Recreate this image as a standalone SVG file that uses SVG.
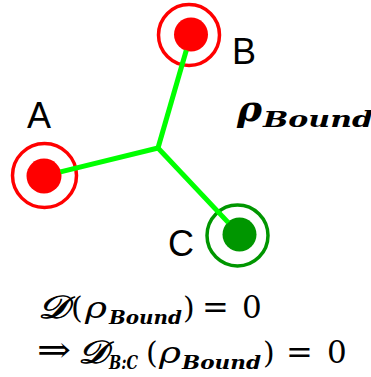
<svg xmlns="http://www.w3.org/2000/svg" width="371" height="377" viewBox="0 0 371 377">
<style>
.ring{fill:none;stroke-width:3.5}
.red .ring{stroke:#ff0000}
.red .dot{fill:#ff0000}
.grn .ring{stroke:#009600}
.grn .dot{fill:#009600}
.lbl{font-family:"Liberation Sans",Arial,sans-serif;font-size:36px;fill:#000}
.edge{stroke:#00ff00;stroke-width:5;fill:none}
.m{font-family:"DejaVu Serif","Liberation Serif",serif;fill:#000}
.mi{font-style:italic}
.mb{font-style:italic;font-weight:bold}
.cal{stroke:#000;stroke-width:0.9}
</style>
<rect width="371" height="377" fill="#fff"/>
<g id="node-A" class="red">
<circle class="ring" cx="44.5" cy="175.5" r="32"/>
<circle class="dot" cx="44" cy="176" r="17.5"/>
<text class="lbl" x="27" y="128">A</text>
</g>
<g id="node-B" class="red">
<circle class="ring" cx="189" cy="35" r="30.5"/>
<circle class="dot" cx="191" cy="34.5" r="17"/>
<text class="lbl" x="232" y="64">B</text>
</g>
<g id="node-C" class="grn">
<circle class="ring" cx="237.5" cy="235.5" r="30.5"/>
<circle class="dot" cx="239.5" cy="234.5" r="17"/>
<text class="lbl" x="168" y="256">C</text>
</g>
<g id="connectors">
<line class="edge" x1="158" y1="148" x2="60.5" y2="171.9"/>
<line class="edge" x1="158" y1="148" x2="186.3" y2="50.3"/>
<line class="edge" x1="158" y1="148" x2="228.3" y2="222.6"/>
</g>
<g id="label-rho">
<text class="m mi" x="237" y="121" font-size="36" font-weight="bold" textLength="25" lengthAdjust="spacingAndGlyphs">ρ</text>
<text class="m mb" x="263" y="127" font-size="22" textLength="110" lengthAdjust="spacingAndGlyphs">Bound</text>
</g>
<g id="eq1">
<text class="m mi cal" x="38" y="318" font-size="32" textLength="31" lengthAdjust="spacingAndGlyphs">𝒟</text>
<text class="m" x="71" y="318" font-size="30">(</text>
<text class="m mi" x="85" y="318" font-size="29" textLength="22" lengthAdjust="spacingAndGlyphs">ρ</text>
<text class="m mb" x="109" y="324" font-size="19" textLength="73" lengthAdjust="spacingAndGlyphs">Bound</text>
<text class="m" x="183" y="318" font-size="30">)</text>
<text class="m" x="202" y="318" font-size="32">=</text>
<text class="m" x="242" y="318" font-size="31">0</text>
</g>
<g id="eq2">
<text class="m" x="37" y="362" font-size="36" textLength="34" lengthAdjust="spacingAndGlyphs">⇒</text>
<text class="m mi cal" x="78" y="363" font-size="32" textLength="30" lengthAdjust="spacingAndGlyphs">𝒟</text>
<text class="m mb" x="109" y="369" font-size="18" textLength="29" lengthAdjust="spacingAndGlyphs">B:C</text>
<text class="m" x="146" y="363" font-size="30">(</text>
<text class="m mi" x="159" y="363" font-size="29" textLength="22" lengthAdjust="spacingAndGlyphs">ρ</text>
<text class="m mb" x="182" y="369" font-size="19" textLength="79" lengthAdjust="spacingAndGlyphs">Bound</text>
<text class="m" x="263" y="363" font-size="30">)</text>
<text class="m" x="286" y="363" font-size="32">=</text>
<text class="m" x="327" y="363" font-size="31">0</text>
</g>
</svg>
